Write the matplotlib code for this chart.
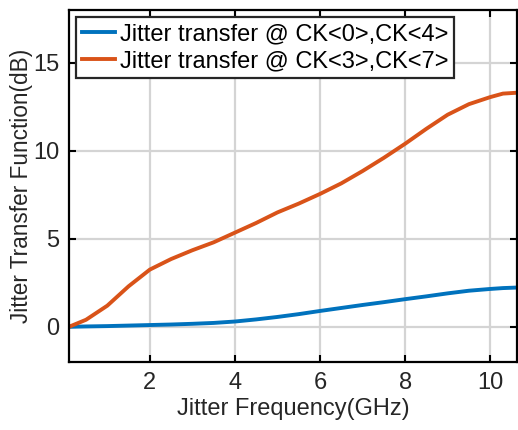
import matplotlib.pyplot as plt
import numpy as np

# jitter frequency (GHz) and transfer (dB)
freq = [0.1, 0.5, 1.0, 1.5, 2.0, 2.5, 3.0, 3.5, 4.0, 4.5, 5.0, 5.5, 6.0, 6.5,
        7.0, 7.5, 8.0, 8.5, 9.0, 9.5, 10.0, 10.3, 10.63]
ck04 = [0.0, 0.02, 0.04, 0.07, 0.1, 0.13, 0.17, 0.22, 0.3, 0.42, 0.56, 0.72,
        0.9, 1.07, 1.24, 1.4, 1.57, 1.73, 1.9, 2.05, 2.15, 2.2, 2.23]
ck37 = [0.0, 0.4, 1.2, 2.3, 3.25, 3.85, 4.35, 4.8, 5.35, 5.9, 6.5, 7.0, 7.55,
        8.15, 8.85, 9.6, 10.4, 11.25, 12.05, 12.65, 13.05, 13.25, 13.3]

plt.rcParams['font.family'] = ['Liberation Sans', 'DejaVu Sans']

fig = plt.figure(figsize=(5.18, 4.30), dpi=100)
ax = fig.add_axes([69 / 518, 1 - 362 / 430, 448 / 518, 352 / 430])

ax.plot(freq, ck04, color='#0072BD', lw=2.8, label='Jitter transfer @ CK<0>,CK<4>')
ax.plot(freq, ck37, color='#D95319', lw=2.8, label='Jitter transfer @ CK<3>,CK<7>')

ax.set_xlim(0.1, 10.63)
ax.set_ylim(-2, 18)
ax.set_xticks([2, 4, 6, 8, 10])
ax.set_yticks([0, 5, 10, 15])
ax.grid(True, color='#d4d4d4', lw=1.6)
ax.set_axisbelow(True)
ax.tick_params(direction='in', top=True, right=True, labelsize=17, length=5,
               width=1.5, labelcolor='#262626', pad=7)
for s in ax.spines.values():
    s.set_linewidth(1.6)

ax.set_xlabel('Jitter Frequency(GHz)', fontsize=17, color='#262626', labelpad=3)
ax.set_ylabel('Jitter Transfer Function(dB)', fontsize=16.3, color='#262626')
ax.yaxis.set_label_coords(-0.08, 0.5)

leg = ax.legend(loc='upper left', fontsize=17, fancybox=False, framealpha=1,
                edgecolor='#262626', handlelength=1.4, handletextpad=0.2,
                borderpad=0.25, labelspacing=0.22, borderaxespad=0.3)
leg.get_frame().set_linewidth(1.6)

fig.savefig('out.png', dpi=100)
